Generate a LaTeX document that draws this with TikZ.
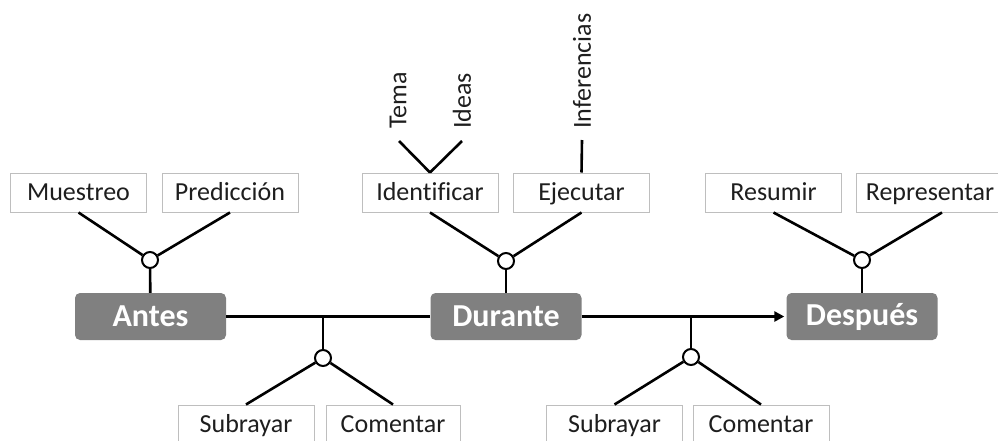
\documentclass[tikz,border=0pt]{standalone}
\usepackage{fontspec}
\setmainfont{Carlito}[Ligatures=NoCommon]
\usetikzlibrary{arrows.meta}
\definecolor{phasegray}{RGB}{128,128,128}
\definecolor{leafline}{RGB}{190,190,190}
\definecolor{leaftext}{RGB}{30,30,30}

\begin{document}
\begin{tikzpicture}[x=1pt,y=-1pt,
  phase/.style={fill=phasegray, rounded corners=5pt, text=white, font=\fontsize{32}{38}\selectfont\bfseries, minimum width=151pt, minimum height=47pt, inner sep=0pt},
  leaf/.style={draw=leafline, fill=white, text=leaftext, font=\fontsize{26}{31}\selectfont, minimum width=136pt, minimum height=39pt, inner sep=0pt, line width=1pt, text height=19pt, text depth=3pt},
  knot/.style={draw, circle, fill=white, minimum size=16pt, inner sep=0pt, line width=2pt},
  vtext/.style={rotate=90, anchor=west, text=leaftext, font=\fontsize{26}{31}\selectfont, inner sep=0pt},
  link/.style={draw, line width=2.6pt}]
\useasboundingbox (0,0) rectangle (998,440);
\node[phase] (antes) at (150.5,316.5) {Antes};
\node[phase] (durante) at (506,316.5) {Durante};
\node[phase] (despues) at (862,316.5) {Después};
\node[leaf] (muestreo) at (78.5,192.5) {Muestreo};
\node[leaf] (prediccion) at (230,192.5) {Predicción};
\node[leaf] (identificar) at (430,192.5) {Identificar};
\node[leaf] (ejecutar) at (581.5,192.5) {Ejecutar};
\node[leaf] (resumir) at (773.5,192.5) {Resumir};
\node[leaf, minimum width=148pt] (representar) at (930,192.5) {Representar};
\node[leaf] (subrayar1) at (246,424.5) {Subrayar};
\node[leaf, minimum width=134pt] (comentar1) at (393,424.5) {Comentar};
\node[leaf] (subrayar2) at (614.5,424.5) {Subrayar};
\node[leaf] (comentar2) at (761,424.5) {Comentar};
\node[vtext] (tema) at (398,129) {Tema};
\node[vtext] (ideas) at (462,129) {Ideas};
\node[vtext] (inferencias) at (582,129) {Inferencias};
\coordinate (temaend) at (399,141);
\coordinate (ideasend) at (462,141);
\coordinate (inferenciasend) at (582,140);
\coordinate (j1) at (323,316.5);
\coordinate (j2) at (691,316.5);
\node[knot] (k1) at (150,260) {};
\node[knot] (k2) at (506,261) {};
\node[knot] (k3) at (862,260) {};
\node[knot] (k4) at (323,358) {};
\node[knot] (k5) at (691,357) {};
% main axis
\path[link] (antes) -- (durante);
\path[link,-{Triangle[length=10pt,width=10pt]},shorten >=2pt] (durante) -- (despues);
% branches above
\path[link] (muestreo.south) -- (k1);
\path[link] (prediccion.south) -- (k1);
\path[link] (k1) -- (antes);
\path[link] (identificar.south) -- (k2);
\path[link] (ejecutar.south) -- (k2);
\path[link] (k2) -- (durante);
\path[link] (resumir.south) -- (k3);
\path[link] ([xshift=12pt]representar.south) -- (k3);
\path[link] (k3) -- (despues);
\path[link] (identificar.north) -- (temaend);
\path[link] (identificar.north) -- (ideasend);
\path[link] (ejecutar.north) -- (inferenciasend);
% branches below
\path[link] (j1) -- (k4);
\path[link] (k4) -- (subrayar1.north);
\path[link] (k4) -- (comentar1.north);
\path[link] (j2) -- (k5);
\path[link] (k5) -- (subrayar2.north);
\path[link] (k5) -- (comentar2.north);
\end{tikzpicture}
\end{document}
